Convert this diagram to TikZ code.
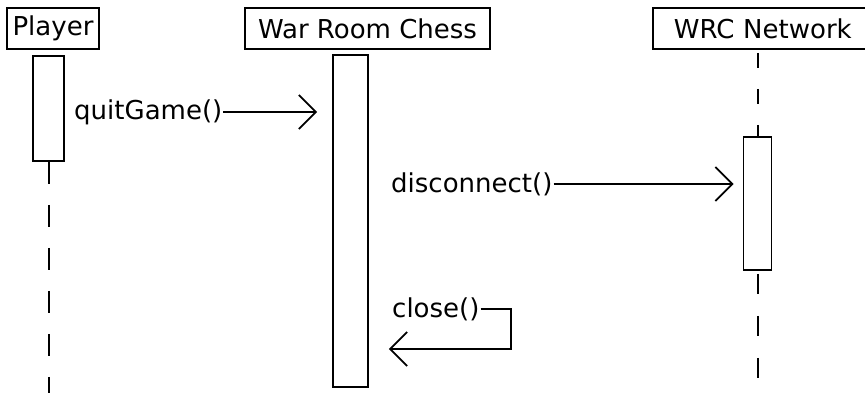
\documentclass[tikz,border=0pt]{standalone}
\usepackage{fontspec}
\setmainfont{DejaVu Sans}
\usetikzlibrary{arrows.meta, positioning, calc}

\begin{document}
\begin{tikzpicture}[
    x=1pt, y=-1pt,
    objbox/.style={rectangle, draw, line width=1.8pt, minimum height=41pt, inner sep=0pt, font=\fontsize{26}{30}\selectfont},
    actbar/.style={rectangle, draw, fill=white, line width=1.8pt, inner sep=0pt},
    lifeline/.style={line width=2pt},
    msg/.style={line width=1.8pt, -{Straight Barb[length=17pt, width=34pt]}},
    msglabel/.style={inner sep=1pt, font=\fontsize{26}{30}\selectfont}
]
    \useasboundingbox (0,0) rectangle (865,393);
    \clip (0,0) rectangle (865,393);
    \coordinate (bottom) at (0,393);

    % Object boxes (the network box runs past the right edge)
    \node[objbox, minimum width=92pt] (player) at (53,28.5) {Player};
    \node[objbox, minimum width=245pt] (war) at (367.5,28.5) {War Room Chess};
    \node[objbox, anchor=west, text width=279pt, align=left, inner xsep=21pt] (net) at (652,28.5) {WRC Network};

    % Activation bars
    \node[actbar, minimum width=31pt, minimum height=105pt] (playeract) at (48.5,108.5) {};
    \node[actbar, minimum width=35pt, minimum height=332pt] (waract) at (350.5,221) {};
    \node[actbar, minimum width=28pt, minimum height=133pt] (netact) at (757.5,203.5) {};

    % Lifelines
    \draw[lifeline, dash pattern=on 22pt off 21pt] (playeract.south) -- (playeract.south |- bottom);
    \draw[lifeline, dash pattern=on 15pt off 21pt, dash phase=33pt] (net.south -| netact) -- (netact.north);
    \draw[lifeline, dash pattern=on 20pt off 22pt, dash phase=39pt] (netact.south) -- (netact.south |- bottom);

    % Messages
    \node[msglabel, anchor=west] (quit) at (73,112) {quitGame()};
    \draw[msg, shorten >=15pt] (quit.east) -- (quit.east -| waract.west);

    \node[msglabel, anchor=west] (disc) at (390,184) {disconnect()};
    \draw[msg, shorten >=9pt] (disc.east) -- (disc.east -| netact.west);

    \node[msglabel, anchor=west] (close) at (391,309) {close()};
    \draw[msg, shorten >=20pt] (close.east) -- ++(30,0) |- ($(close.east -| waract.east)+(0,40)$);
\end{tikzpicture}
\end{document}
